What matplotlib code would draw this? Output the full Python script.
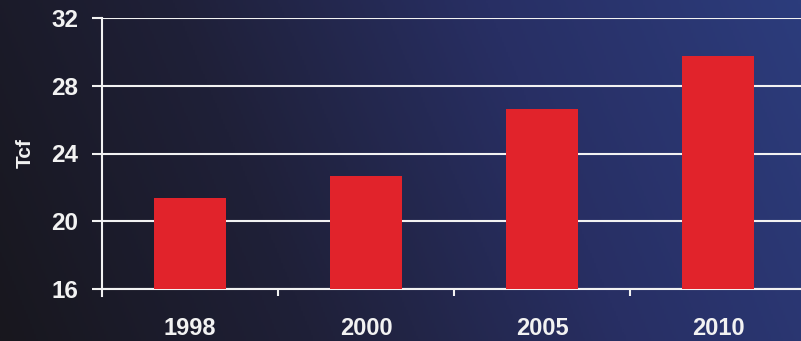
import matplotlib
matplotlib.use("Agg")
import matplotlib.pyplot as plt
import numpy as np
from matplotlib.colors import LinearSegmentedColormap

years = ["1998", "2000", "2005", "2010"]
tcf = [21.35, 22.7, 26.6, 29.75]
yticks = [16, 20, 24, 28, 32]

plt.rcParams["font.family"] = ["Liberation Sans", "DejaVu Sans"]
plt.rcParams["font.weight"] = "bold"
text_col = "#f2f2f2"

fig = plt.figure(figsize=(8.01, 3.41), dpi=100)

# background gradient: near black on the left to navy on the right
bg = fig.add_axes([0, 0, 1, 1], zorder=0)
cmap = LinearSegmentedColormap.from_list(
    "bg", ["#18171e", "#1f2038", "#282f64", "#2c3c7c"])
gx = np.linspace(0, 1, 400)
gy = np.linspace(0, 1, 200)
grad = gx[None, :] * 0.85 + gy[:, None] * 0.15
bg.imshow(grad, cmap=cmap, aspect="auto", extent=[0, 1, 0, 1], origin="lower")
bg.axis("off")

ax = fig.add_axes([102 / 801, 52 / 341, 699 / 801, 271 / 341], zorder=1)
ax.patch.set_alpha(0)

x = np.arange(len(years))
ax.bar(x, tcf, width=0.41, color="#e1232b", zorder=3)

ax.set_ylim(16, 32)
ax.set_xlim(-0.5, 3.47)
ax.set_yticks(yticks)
ax.set_yticklabels([str(t) for t in yticks], fontsize=17.5, color=text_col,
                   fontweight="bold")
ax.set_xticks(x)
ax.set_xticklabels(years, fontsize=17, color=text_col, fontweight="bold")
ax.set_xticks([0.5, 1.5, 2.5], minor=True)

ax.tick_params(axis="y", length=7, width=1.5, color=text_col, pad=10)
ax.tick_params(axis="x", which="major", length=0, pad=20)
ax.tick_params(axis="x", which="minor", length=5, width=1.5, color=text_col)

ax.grid(axis="y", color=text_col, linewidth=1.5, zorder=1)
ax.set_axisbelow(True)

for side in ["top", "right"]:
    ax.spines[side].set_visible(False)
ax.spines["left"].set_color(text_col)
ax.spines["left"].set_linewidth(1.5)
ax.spines["left"].set_bounds(15.6, 32)
ax.spines["bottom"].set_color(text_col)
ax.spines["bottom"].set_linewidth(1.5)

ax.set_ylabel("Tcf", fontsize=15, color=text_col, fontweight="bold", labelpad=12)

fig.savefig("out.png", dpi=100)
